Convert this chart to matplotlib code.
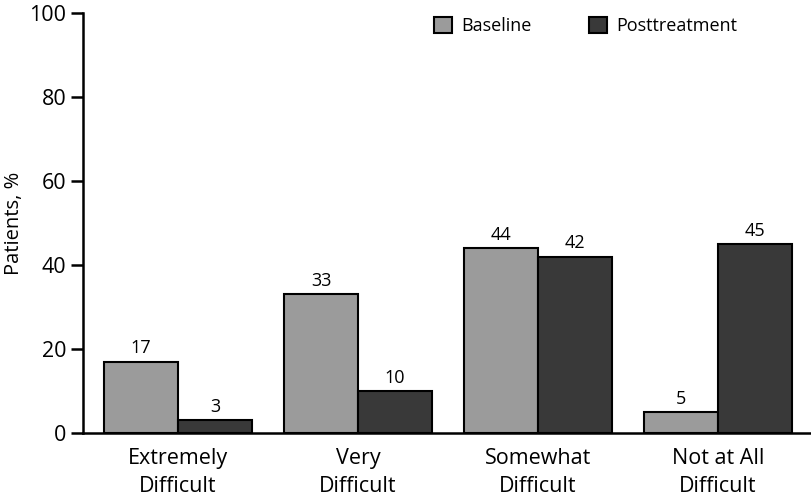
import matplotlib.pyplot as plt
import numpy as np
from matplotlib.patches import Patch

categories = ["Extremely\nDifficult", "Very\nDifficult", "Somewhat\nDifficult", "Not at All\nDifficult"]
baseline = [17, 33, 44, 5]
posttreatment = [3, 10, 42, 45]

plt.rcParams["font.family"] = ["Open Sans", "DejaVu Sans"]

fig = plt.figure(figsize=(8.12, 5.04), dpi=100)
ax = fig.add_axes([0.1022, 0.141, 0.8978, 0.833])

x = np.arange(len(categories))
w = 0.41
b1 = ax.bar(x - w / 2, baseline, w, color="#9b9b9b", edgecolor="black", linewidth=1.5, label="Baseline")
b2 = ax.bar(x + w / 2, posttreatment, w, color="#393939", edgecolor="black", linewidth=1.5, label="Posttreatment")

for bars, vals in ((b1, baseline), (b2, posttreatment)):
    for r, v in zip(bars, vals):
        ax.text(r.get_x() + r.get_width() / 2, v + 1.0, str(v), ha="center", va="bottom", fontsize=13)

ax.set_xlim(-0.528, 3.522)
ax.set_ylim(0, 100)
ax.set_yticks(range(0, 101, 20))
ax.set_xticks(x)
ax.set_xticklabels(categories, fontsize=15.5, linespacing=1.45)
ax.tick_params(axis="x", length=0, pad=11)
ax.tick_params(axis="y", length=9, width=1.8, labelsize=15.5, pad=3)
ax.set_ylabel("Patients, %", fontsize=14.5, labelpad=4)

for s in ("top", "right"):
    ax.spines[s].set_visible(False)
ax.spines["left"].set_linewidth(1.8)
ax.spines["bottom"].set_linewidth(1.8)

handles = [
    Patch(facecolor="#9b9b9b", edgecolor="black", linewidth=1.5),
    Patch(facecolor="#393939", edgecolor="black", linewidth=1.5),
]
ax.legend(handles, ["Baseline", "Posttreatment"], loc="upper right", bbox_to_anchor=(0.92, 1.03),
          ncol=2, frameon=False, fontsize=13, handlelength=1.0, handleheight=1.0,
          handletextpad=0.5, columnspacing=3.2)

fig.savefig("out.png", dpi=100)
